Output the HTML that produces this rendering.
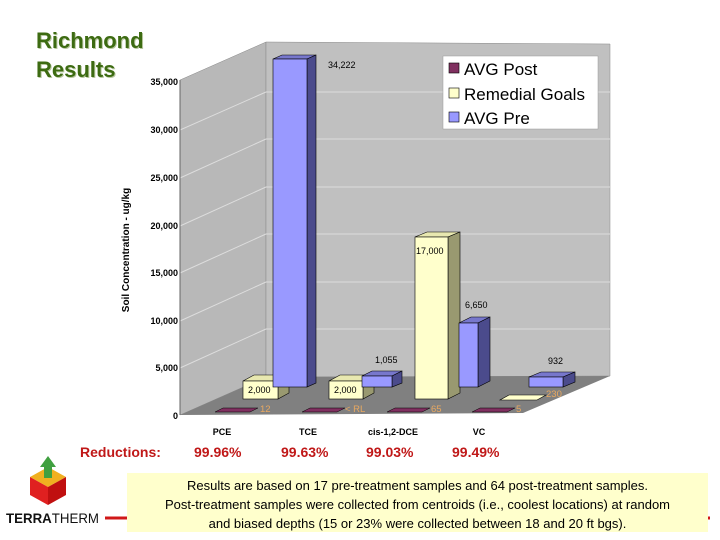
<!DOCTYPE html>
<html><head><meta charset="utf-8"><style>
body{margin:0;width:720px;height:540px;background:#fff;overflow:hidden;position:relative;font-family:"Liberation Sans",sans-serif}
.t{position:absolute;font-family:"Liberation Sans",sans-serif}
</style></head><body>
<div class="t" style="left:36px;top:26px;font-size:22px;font-weight:bold;color:#3d6b12;line-height:29px;text-shadow:1px 1px 0 #b8c8a0">Richmond<br>Results</div>
<svg width="720" height="540" style="position:absolute;left:0;top:0" font-family="Liberation Sans, sans-serif">
<polygon points="180,80 266,42 266,377 180,415" fill="#b8b8b8" stroke="#888" stroke-width="0.5"/>
<polygon points="266,42 610,44 610,376 266,377" fill="#c0c0c0" stroke="#888" stroke-width="0.5"/>
<polygon points="180,415 266,377 610,376 523,413" fill="#808080"/>
<g stroke="#ddd" stroke-width="1" fill="none">
<path d="M266,92H610 M266,139H610 M266,187H610 M266,234H610 M266,282H610 M266,329H610"/>
<path d="M180,130L266,92 M180,178L266,139 M180,226L266,187 M180,273L266,234 M180,321L266,282 M180,368L266,329"/>
</g>
<line x1="180" y1="80" x2="180" y2="415" stroke="#666"/>
<g font-size="9" font-weight="bold" text-anchor="end" fill="#000">
<text x="178" y="85">35,000</text><text x="178" y="133">30,000</text><text x="178" y="181">25,000</text><text x="178" y="229">20,000</text><text x="178" y="276">15,000</text><text x="178" y="324">10,000</text><text x="178" y="371">5,000</text><text x="178" y="419">0</text>
</g>
<text transform="translate(129,250) rotate(-90)" font-size="10" font-weight="bold" text-anchor="middle">Soil Concentration - ug/kg</text>
<g fill="#803060" stroke="#000" stroke-width="0.5">
<polygon points="215,412 250,412 258,408 223,408"/><polygon points="302,412 337,412 345,408 310,408"/>
<polygon points="387,412 422,412 430,408 395,408"/><polygon points="472,412 507,412 515,408 480,408"/>
</g>
<g stroke="#000" stroke-width="0.6">
<polygon points="243,381 278,381 289,375 254,375" fill="#e8e8b0"/><polygon points="278,381 289,375 289,393 278,399" fill="#999970"/><rect x="243" y="381" width="35" height="18" fill="#ffffcc"/>
<polygon points="329,381 363,381 374,375 340,375" fill="#e8e8b0"/><polygon points="363,381 374,375 374,393 363,399" fill="#999970"/><rect x="329" y="381" width="34" height="18" fill="#ffffcc"/>
<polygon points="415,237 448,237 460,232 427,232" fill="#e8e8b0"/><polygon points="448,237 460,232 460,393 448,399" fill="#999970"/><rect x="415" y="237" width="33" height="162" fill="#ffffcc"/>
<polygon points="500,400 537,400 546,395 509,395" fill="#ffffcc"/>
</g>
<g stroke="#000" stroke-width="0.6">
<polygon points="273,59 307,59 316,55 282,55" fill="#7777cc"/><polygon points="307,59 316,55 316,383 307,387" fill="#4b4b8c"/><rect x="273" y="59" width="34" height="328" fill="#9999ff"/>
<polygon points="362,376 392,376 402,371 372,371" fill="#7777cc"/><polygon points="392,376 402,371 402,383 392,387" fill="#4b4b8c"/><rect x="362" y="376" width="30" height="11" fill="#9999ff"/>
<polygon points="459,323 478,323 490,317 471,317" fill="#7777cc"/><polygon points="478,323 490,317 490,381 478,387" fill="#4b4b8c"/><rect x="459" y="323" width="19" height="64" fill="#9999ff"/>
<polygon points="529,377 563,377 575,372 541,372" fill="#7777cc"/><polygon points="563,377 575,372 575,382 563,387" fill="#4b4b8c"/><rect x="529" y="377" width="34" height="10" fill="#9999ff"/>
</g>
<g font-size="9" fill="#000">
<text x="328" y="68">34,222</text><text x="416" y="254">17,000</text><text x="465" y="308">6,650</text><text x="375" y="363">1,055</text><text x="548" y="364">932</text>
<text x="248" y="393">2,000</text><text x="334" y="393">2,000</text>
</g>
<g font-size="9.5" fill="#e8a860">
<text x="260" y="412">12</text><text x="345" y="412">&lt; RL</text><text x="431" y="412">65</text><text x="516" y="412">5</text><text x="546" y="397">230</text>
</g>
<g font-size="9" font-weight="bold" text-anchor="middle">
<text x="222" y="435">PCE</text><text x="308" y="435">TCE</text><text x="393" y="435">cis-1,2-DCE</text><text x="479" y="435">VC</text>
</g>
<rect x="443" y="56" width="155" height="73" fill="#fff" stroke="#999" stroke-width="0.5"/>
<rect x="449" y="63" width="10" height="10" fill="#803060" stroke="#000" stroke-width="0.6"/>
<rect x="449" y="88" width="10" height="10" fill="#ffffcc" stroke="#000" stroke-width="0.6"/>
<rect x="449" y="112" width="10" height="10" fill="#9999ff" stroke="#000" stroke-width="0.6"/>
<g font-size="17"><text x="464" y="75">AVG Post</text><text x="464" y="100">Remedial Goals</text><text x="464" y="124">AVG Pre</text></g>
<g font-size="14" font-weight="bold" fill="#c01818">
<text x="80" y="457">Reductions:</text><text x="194" y="457">99.96%</text><text x="281" y="457">99.63%</text><text x="366" y="457">99.03%</text><text x="452" y="457">99.49%</text>
</g>
<line x1="105" y1="518" x2="710" y2="518" stroke="#d01818" stroke-width="3"/>
<polygon points="48,487 30,477 48,467 66,477" fill="#f0b020"/>
<polygon points="30,477 48,487 48,505 30,495" fill="#e02020"/>
<polygon points="48,487 66,477 66,495 48,505" fill="#c01010"/>
<polygon points="44,478 44,467 40,467 48,456 56,467 52,467 52,478" fill="#40a040"/>
<text x="6" y="523" font-size="14" fill="#111" textLength="93" lengthAdjust="spacingAndGlyphs"><tspan font-weight="bold">TERRA</tspan>THERM</text>
</svg>
<div class="t" style="left:127px;top:473px;width:581px;height:59px;background:#ffffcc;font-size:13px;line-height:19px;text-align:center;padding-top:3px;box-sizing:border-box">Results are based on 17 pre-treatment samples and 64 post-treatment samples.<br>Post-treatment samples were collected from centroids (i.e., coolest locations) at random<br>and biased depths (15 or 23% were collected between 18 and 20 ft bgs).</div>
</body></html>
